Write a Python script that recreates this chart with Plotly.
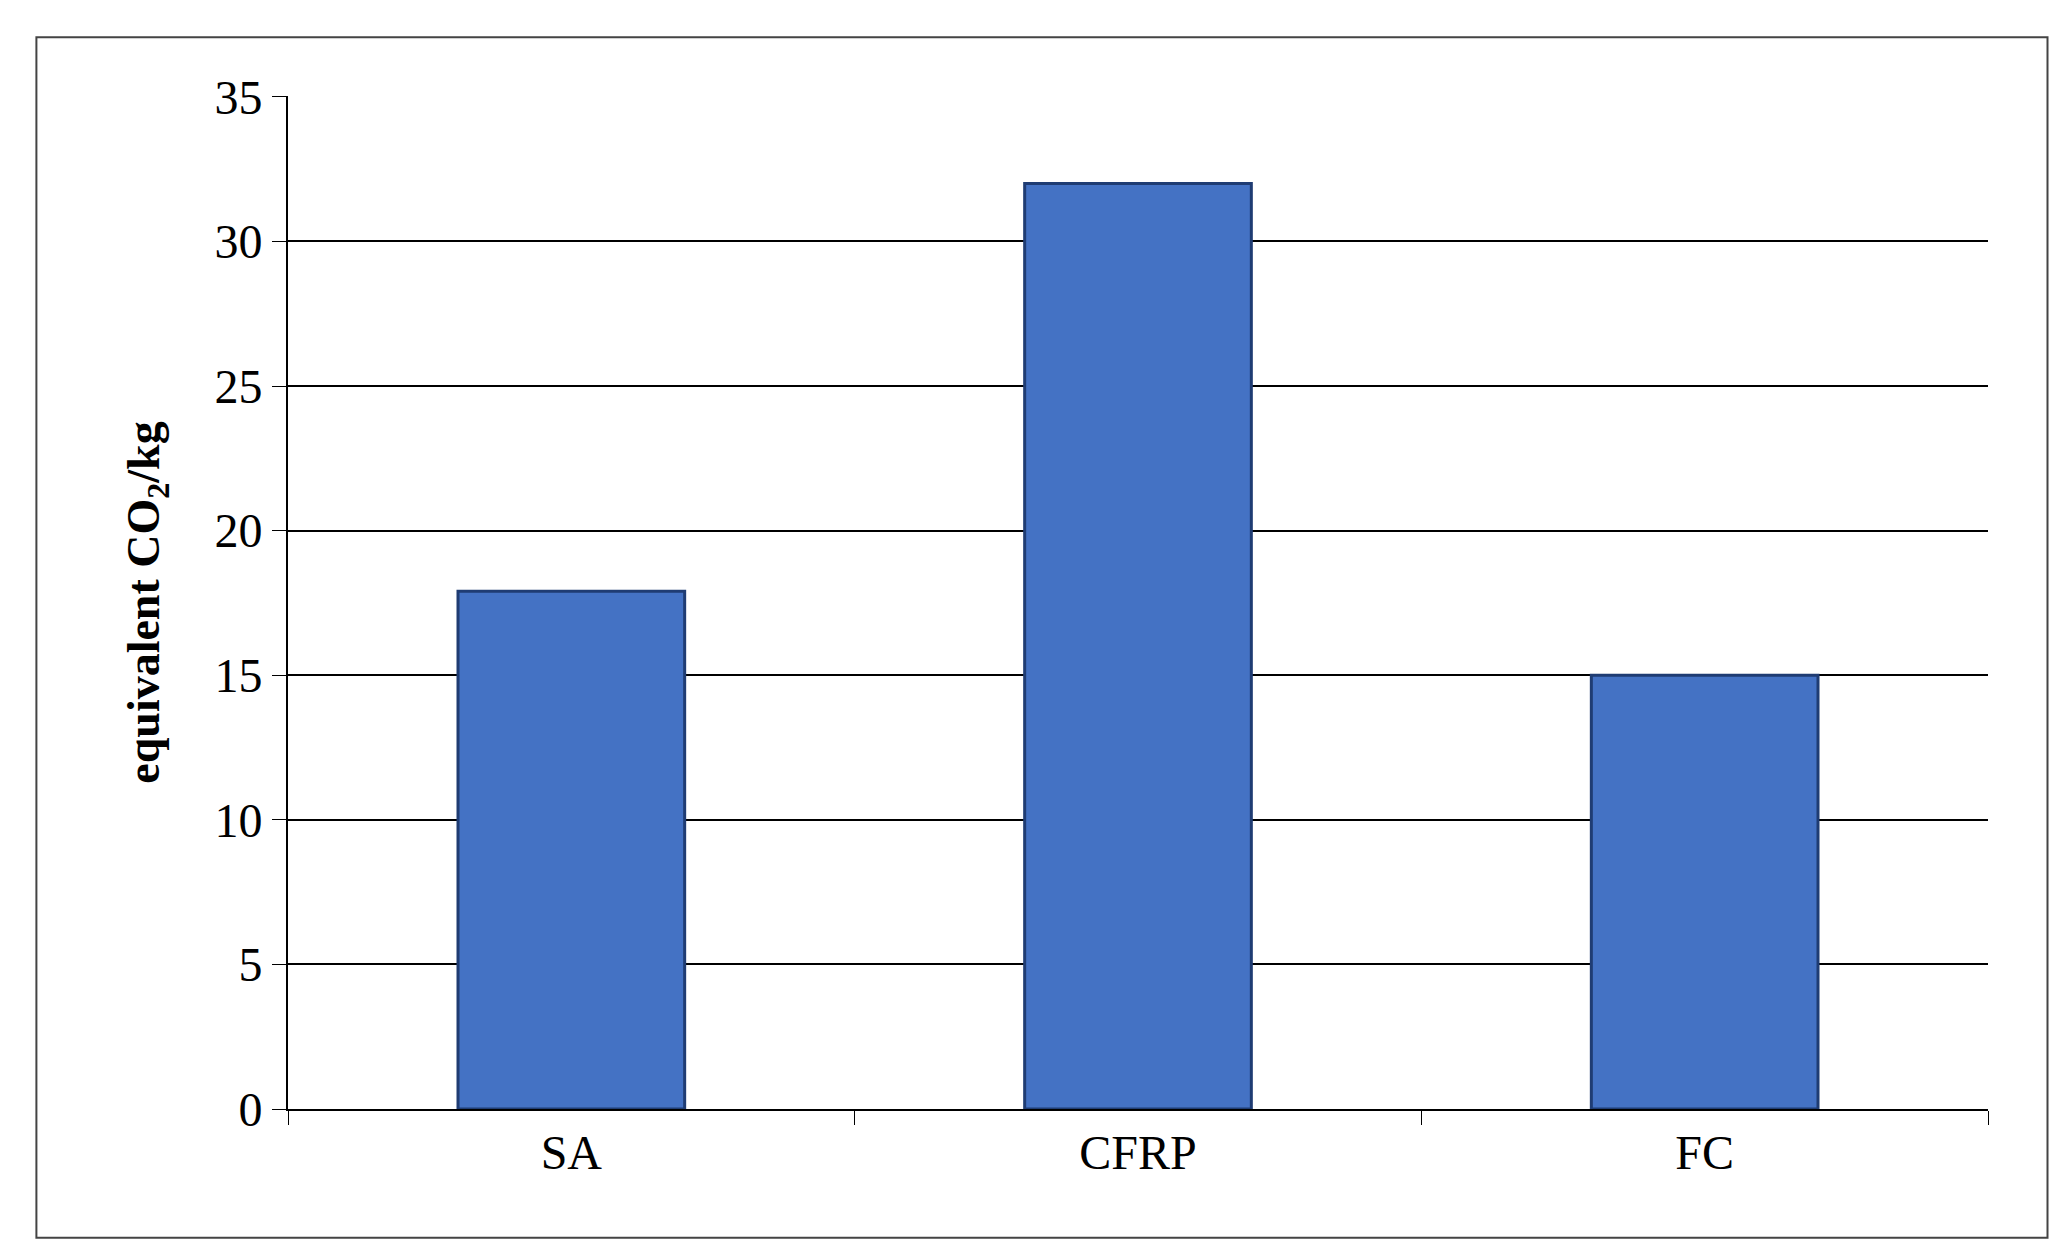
import plotly.graph_objects as go

categories = ["SA", "CFRP", "FC"]
values = [17.9, 32.0, 15.0]
y_ticks = [0, 5, 10, 15, 20, 25, 30, 35]

fig = go.Figure(go.Bar(x=categories, y=values, marker=dict(color="#4472C4", line=dict(color="#1F3C73", width=3))))
font = dict(family="Liberation Serif", size=48, color="black")
fig.update_layout(
    width=2063, height=1257, paper_bgcolor="white", plot_bgcolor="white",
    margin=dict(l=280, r=83, t=88, b=156), bargap=0.6, showlegend=False,
    font=font,
    shapes=[dict(type="rect", xref="paper", yref="paper", x0=-0.148, x1=1.035, y0=-0.127, y1=1.058,
                 line=dict(color="#444", width=2))],
)
fig.update_xaxes(showline=True, linecolor="black", linewidth=2, ticks="outside", tickson="boundaries",
                 ticklen=14, tickcolor="black", tickfont=font, showgrid=False)
fig.update_yaxes(range=[0, 35.03], tickvals=y_ticks, showline=True, linecolor="black", linewidth=2,
                 ticks="outside", ticklen=14, tickcolor="black", showgrid=True, gridcolor="black", gridwidth=2,
                 tickfont=font, zeroline=False,
                 title=dict(text="<b>equivalent CO<sub>2</sub>/kg</b>", font=dict(family="Liberation Serif", size=46), standoff=40))
fig.write_html("out.html")
